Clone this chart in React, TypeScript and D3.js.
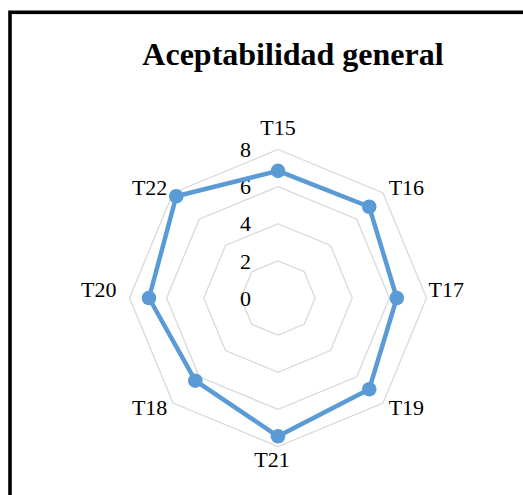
import React from "react";
import * as d3 from "d3";

const categories = ["T15", "T16", "T17", "T19", "T21", "T18", "T20", "T22"];
const values = [6.85, 6.95, 6.4, 6.95, 7.45, 6.3, 6.95, 7.75];
const ticks = [0, 2, 4, 6, 8];
const gridLevels = [2, 4, 6, 8];
const title = "Aceptabilidad general";

const W = 523;
const H = 495;
const cx = 278;
const cy = 298;
const R = 148.5;
const FONT = '"Liberation Serif", "Times New Roman", serif';

export default function App() {
  const r = d3.scaleLinear().domain([0, 8]).range([0, R]);
  const angle = d3
    .scaleLinear()
    .domain([0, categories.length])
    .range([0, 2 * Math.PI]);
  const ang = (c: string) => angle(categories.indexOf(c));

  const radial = d3
    .lineRadial<number>()
    .angle((_, i) => angle(i))
    .radius((v) => r(v))
    .curve(d3.curveLinearClosed);

  const pt = (a: number, rad: number) => [cx + rad * Math.sin(a), cy - rad * Math.cos(a)];

  const labelPad = 8;
  const labels = categories.map((c) => {
    const a = ang(c);
    const s = Math.sin(a);
    const co = Math.cos(a);
    const [x, y] = pt(a, R + labelPad);
    let anchor = "middle";
    if (s > 0.01) anchor = "start";
    else if (s < -0.01) anchor = "end";
    let by = y + 7.5;
    let bx = x;
    if (Math.abs(s) > 0.99) {
      by = cy - 1;
      bx = s > 0 ? x - 6 : x - 5;
    } else if (co > 0.99) {
      by = y - 7;
    } else if (co < -0.99) {
      by = y + 12.7;
      bx = x - 6;
    } else if (co < 0) {
      by = y + 6;
    }
    return { c, x: bx, y: by, anchor };
  });

  return (
    <svg
      width={W}
      height={H}
      style={{ position: "fixed", left: 0, top: 0, background: "#fff" }}
      fontFamily={FONT}
    >
      <rect x={0} y={0} width={W} height={H} fill="#fff" />
      <rect x={10} y={12.3} width={540} height={520} fill="none" stroke="#000" strokeWidth={3.6} />
      <text x={293} y={65} textAnchor="middle" fontWeight="bold" fontSize={32} fill="#000">
        {title}
      </text>
      <g>
        {gridLevels.map((lv) => (
          <path
            key={lv}
            d={
              d3
                .lineRadial<string>()
                .angle((c) => ang(c))
                .radius(() => r(lv))
                .curve(d3.curveLinearClosed)(categories) || ""
            }
            transform={`translate(${cx},${cy})`}
            fill="none"
            stroke="#D9D9D9"
            strokeWidth={1.3}
          />
        ))}
      </g>
      <g>
        {ticks.map((t) => (
          <text
            key={t}
            x={cx - 27}
            y={cy - r(t)}
            dy="0.35em"
            textAnchor="end"
            fontSize={22}
            fill="#000"
          >
            {t}
          </text>
        ))}
      </g>
      <path
        d={radial(values) || ""}
        transform={`translate(${cx},${cy})`}
        fill="none"
        stroke="#5B9BD5"
        strokeWidth={4.5}
        strokeLinejoin="round"
      />
      {values.map((v, i) => {
        const [x, y] = pt(angle(i), r(v));
        return <circle key={i} cx={x} cy={y} r={7.3} fill="#5B9BD5" />;
      })}
      {labels.map((l) => (
        <text key={l.c} x={l.x} y={l.y} textAnchor={l.anchor} fontSize={22} fill="#000">
          {l.c}
        </text>
      ))}
    </svg>
  );
}
